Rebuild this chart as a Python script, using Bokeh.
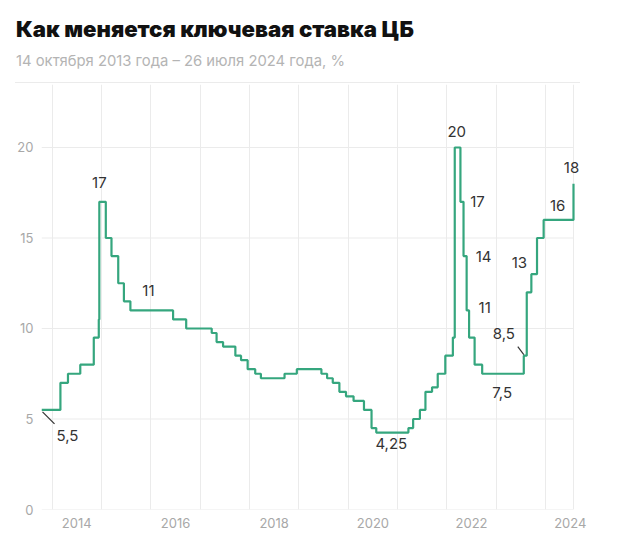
import pandas as pd
from bokeh.plotting import figure
from bokeh.models import FixedTicker, Div, Range1d, ColumnDataSource, Label
from bokeh.layouts import column
from bokeh.embed import file_html
from bokeh.resources import INLINE

# ---------------- data ----------------
title_text = "Как меняется ключевая ставка ЦБ"
subtitle_text = "14 октября 2013 года – 26 июля 2024 года, %"

rate_dates = [
    "2013-10-14", "2014-03-03", "2014-04-28", "2014-07-28", "2014-11-05",
    "2014-12-12", "2014-12-16", "2015-02-02", "2015-03-16", "2015-05-05",
    "2015-06-16", "2015-08-03", "2016-06-14", "2016-09-19", "2017-03-27",
    "2017-05-02", "2017-06-19", "2017-09-18", "2017-10-30", "2017-12-18",
    "2018-02-12", "2018-03-26", "2018-09-17", "2018-12-17", "2019-06-17",
    "2019-07-29", "2019-09-09", "2019-10-28", "2019-12-16", "2020-02-10",
    "2020-04-27", "2020-06-22", "2020-07-27", "2021-03-22", "2021-04-26",
    "2021-06-15", "2021-07-26", "2021-09-13", "2021-10-25", "2021-12-20",
    "2022-02-14", "2022-02-28", "2022-04-11", "2022-05-04", "2022-05-27",
    "2022-06-14", "2022-07-25", "2022-09-19", "2023-07-24", "2023-08-15",
    "2023-09-18", "2023-10-30", "2023-12-18", "2024-07-26",
]
rate_values = [
    5.5, 7.0, 7.5, 8.0, 9.5,
    10.5, 17.0, 15.0, 14.0, 12.5,
    11.5, 11.0, 10.5, 10.0, 9.75,
    9.25, 9.0, 8.5, 8.25, 7.75,
    7.5, 7.25, 7.5, 7.75, 7.5,
    7.25, 7.0, 6.5, 6.25, 6.0,
    5.5, 4.5, 4.25, 4.5, 5.0,
    5.5, 6.5, 6.75, 7.5, 8.5,
    9.5, 20.0, 17.0, 14.0, 11.0,
    9.5, 8.0, 7.5, 8.5, 12.0,
    13.0, 15.0, 16.0, 18.0,
]

period_start = "2013-10-14"
period_end = "2024-07-26"

grid_years = list(range(2014, 2025))
label_years = [2014, 2016, 2018, 2020, 2022, 2024]
y_ticks = [0, 5, 10, 15, 20]
y_max = 23.48

callout_dates = ["2013-10-14", "2014-12-16", "2015-08-03", "2020-07-27", "2022-02-28",
                 "2022-04-11", "2022-05-04", "2022-05-27", "2022-09-19", "2023-07-24",
                 "2023-09-18", "2023-12-18", "2024-07-26"]
callout_values = [5.5, 17, 11, 4.25, 20, 17, 14, 11, 7.5, 8.5, 13, 16, 18]
callout_texts = ["5,5", "17", "11", "4,25", "20", "17", "14", "11", "7,5", "8,5", "13", "16", "18"]

# ---------------- style ----------------
callout_dx = [26, 0, 18, 15, 2, 17, 20, 18, 20, -20, -12, 14, -2]
callout_dy = [26, -19, -20, 11, -16, 0, 0, -3, 19, -22, -12, -14, -16]
# leader lines: (index of callout, start px offset, end px offset)
leaders = [(0, (1, 2), (13, 14)), (9, (-6, -9), (0, -1))]

LINE_COLOR = "#35a67e"
GRID_COLOR = "#ebebeb"
TICK_COLOR = "#a8a8a8"
LABEL_COLOR = "#333333"
FONT = "Inter"

PLOT_W, FRAME_H = 532, 425   # data area width (period) and frame height
PAD_R = 12                    # extra white room right of the period for the last label


def to_ms(d):
    return pd.to_datetime(d).value / 1e6


x0, x1 = to_ms(period_start), to_ms(period_end)
px_per_ms = PLOT_W / (x1 - x0)
px_per_unit = FRAME_H / y_max

src = ColumnDataSource(dict(x=[to_ms(d) for d in rate_dates], y=rate_values))

p = figure(
    x_range=Range1d(x0, x1 + PAD_R / px_per_ms), y_range=Range1d(0, y_max),
    frame_width=PLOT_W + PAD_R, frame_height=FRAME_H,
    min_border_left=33, min_border_right=8, min_border_top=0, min_border_bottom=39,
    output_backend="svg", toolbar_location=None, tools="",
    background_fill_color="white", border_fill_color="white",
)
p.outline_line_color = None

# vertical grid: period edges + year starts
p.xgrid.ticker = FixedTicker(ticks=[x0] + [to_ms(f"{y}-01-01") for y in grid_years] + [x1])
p.xgrid.grid_line_color = GRID_COLOR
# horizontal grid drawn over the period only
p.ygrid.grid_line_color = None
p.segment([x0] * len(y_ticks), y_ticks, [x1] * len(y_ticks), y_ticks,
          line_color=GRID_COLOR, line_width=1, level="underlay")

# axes
mid_ticks = [to_ms(f"{y}-07-02") for y in label_years]
p.xaxis.ticker = FixedTicker(ticks=mid_ticks)
p.xaxis.major_label_overrides = {t: str(y) for t, y in zip(mid_ticks, label_years)}
p.yaxis.ticker = FixedTicker(ticks=y_ticks)
for ax in (p.xaxis[0], p.yaxis[0]):
    ax.axis_line_color = None
    ax.major_tick_line_color = None
    ax.minor_tick_line_color = None
    ax.major_tick_out = 0
    ax.major_tick_in = 0
    ax.minor_tick_out = 0
    ax.minor_tick_in = 0
    ax.major_label_text_color = TICK_COLOR
    ax.major_label_text_font = FONT
    ax.major_label_text_font_size = "13px"
p.xaxis.major_label_standoff = 8
p.yaxis.major_label_standoff = 8

# line
p.step("x", "y", source=src, mode="after", line_color=LINE_COLOR, line_width=2.2)

# callouts
for d, v, t, dx, dy in zip(callout_dates, callout_values, callout_texts, callout_dx, callout_dy):
    p.add_layout(Label(
        x=to_ms(d), y=v, text=t, x_offset=dx, y_offset=-dy,
        text_align="center", text_baseline="middle", text_color=LABEL_COLOR,
        text_font=FONT, text_font_size="15px",
    ))

lx0, ly0, lx1, ly1 = [], [], [], []
for i, (sx, sy), (ex, ey) in leaders:
    ax_ = to_ms(callout_dates[i])
    ay_ = callout_values[i]
    lx0.append(ax_ + sx / px_per_ms)
    ly0.append(ay_ - sy / px_per_unit)
    lx1.append(ax_ + ex / px_per_ms)
    ly1.append(ay_ - ey / px_per_unit)
p.segment(lx0, ly0, lx1, ly1, line_color=LABEL_COLOR, line_width=1.2)

header = Div(
    text=(
        f'<div style="position:relative;margin-left:7px;width:565px;height:75px;'
        f'border-bottom:1px solid {GRID_COLOR};font-family:{FONT};">'
        f'<div style="position:absolute;left:1px;top:10px;font-size:22.2px;line-height:22px;'
        f'font-weight:900;color:#111;white-space:nowrap;">{title_text}</div>'
        f'<div style="position:absolute;left:1px;top:46px;font-size:14.8px;line-height:15px;'
        f'color:#b4b4b4;white-space:nowrap;">{subtitle_text}</div>'
        f'</div>'
    ),
    width=580, height=76, margin=(0, 0, 0, 0),
)
footer = Div(
    text=f'<div style="margin-left:7px;width:565px;height:0;border-top:1px solid {GRID_COLOR};"></div>',
    width=580, height=2, margin=(0, 0, 0, 0),
)

layout = column(header, p, footer, spacing=0, margin=(8, 8, 8, 8))
open("out.html", "w").write(file_html(layout, INLINE))
